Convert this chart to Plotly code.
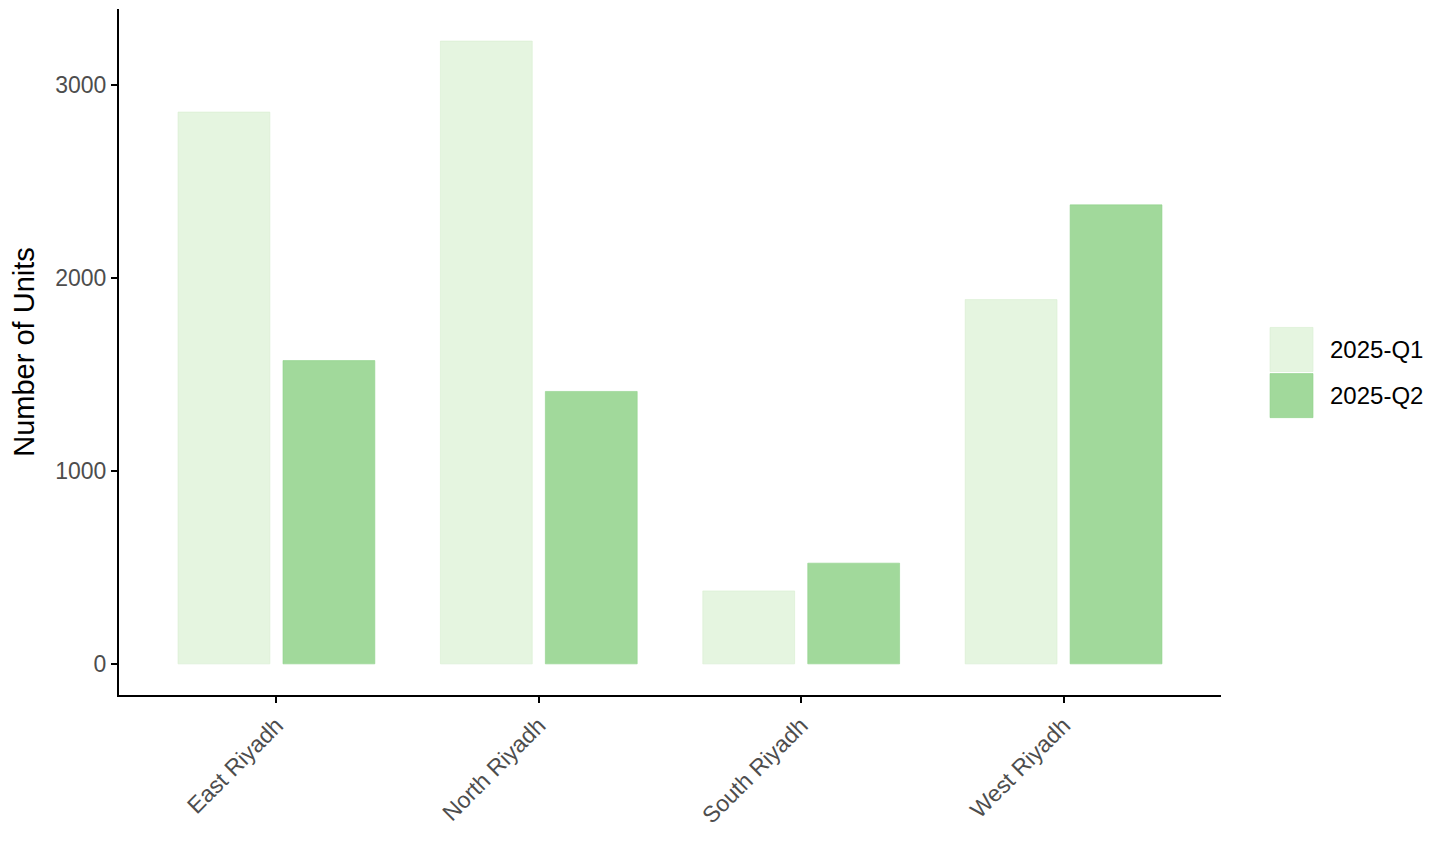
import plotly.graph_objects as go

regions = ["East Riyadh", "North Riyadh", "South Riyadh", "West Riyadh"]
series_names = ["2025-Q1", "2025-Q2"]
q1_values = [2860, 3228, 378, 1888]
q2_values = [1572, 1412, 522, 2379]

fills = ["#e5f5e0", "#a1d99b"]
borders = ["#d6eed0", "#8fd18a"]

fig = go.Figure()
for name, vals, fc, bc in zip(series_names, [q1_values, q2_values], fills, borders):
    fig.add_trace(go.Bar(
        x=regions, y=vals, name=name,
        marker=dict(color=fc, line=dict(color=bc, width=0.6)),
        showlegend=False,
    ))

ymax = max(q1_values + q2_values)
pad = 0.05 * ymax

fig.update_layout(
    width=1448, height=836,
    margin=dict(l=111, r=235, t=1, b=149),
    paper_bgcolor="white", plot_bgcolor="white",
    barmode="group", bargap=0.2, bargroupgap=0.125,
    font=dict(family="Liberation Sans, Arial", color="#4d4d4d"),
    xaxis=dict(
        range=[-0.6, 3.6], showline=True, linecolor="black", linewidth=2,
        ticks="outside", ticklen=6, tickwidth=2, tickcolor="black",
        tickangle=-45, tickfont=dict(size=23, color="#4d4d4d"),
        showgrid=False, zeroline=False,
    ),
    yaxis=dict(
        range=[-pad, ymax + pad * 1.03], showline=True, linecolor="black", linewidth=2,
        ticks="outside", ticklen=6, tickwidth=2, tickcolor="black",
        tickvals=[0, 1000, 2000, 3000], tickfont=dict(size=23, color="#4d4d4d"),
        showgrid=False, zeroline=False,
        title=dict(text="Number of Units", font=dict(size=29, color="black"), standoff=14),
    ),
)

# custom legend with large square keys
key_tops = [0.5358, 0.4686]
key_h = 0.0643
for i, (name, fc, bc) in enumerate(zip(series_names, fills, borders)):
    y1 = key_tops[i]
    y0 = y1 - key_h
    fig.add_shape(type="rect", xref="paper", yref="paper",
                  x0=1.0445, x1=1.0835, y0=y0, y1=y1,
                  fillcolor=fc, line=dict(color=bc, width=0.6))
    fig.add_annotation(xref="paper", yref="paper", x=1.099, y=(y0 + y1) / 2,
                       text=name, showarrow=False, xanchor="left", yanchor="middle",
                       xshift=-2,
                       font=dict(size=24, color="black", family="Liberation Sans, Arial"))

fig.write_html("out.html")
